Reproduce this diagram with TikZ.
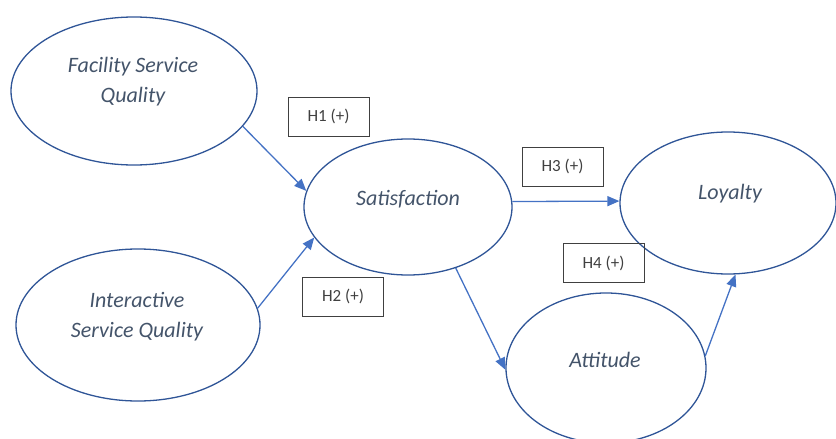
\documentclass[tikz,border=0pt]{standalone}
\usepackage{fontspec}
\setmainfont{Carlito}
\usetikzlibrary{shapes.geometric,arrows.meta}
\definecolor{ellline}{HTML}{2F5597}
\definecolor{arrline}{HTML}{4472C4}
\definecolor{mtext}{HTML}{44546A}
\definecolor{ltext}{HTML}{404040}
\tikzset{
  oval/.style={ellipse, draw=ellline, line width=1.3pt, inner sep=0pt},
  ovaltext/.style={font=\fontsize{22}{30}\selectfont\itshape, text=mtext, align=center, inner sep=0pt},
  hyp/.style={draw=ltext, line width=0.9pt, minimum width=81pt, minimum height=39pt, font=\fontsize{17}{20}\selectfont, text=ltext, inner sep=0pt},
  conn/.style={draw=arrline, line width=1.3pt, -{Triangle[length=12pt,width=10pt]}}
}
\begin{document}
\begin{tikzpicture}[x=1pt,y=-1pt]
\useasboundingbox (0,0) rectangle (836,439);
\node[oval, minimum width=246pt, minimum height=148pt] (fac) at (134,91) {};
\node[ovaltext] (factext) at (133,82) {Facility Service\\Quality};
\node[oval, minimum width=244pt, minimum height=152pt] (int) at (138,325) {};
\node[ovaltext] (inttext) at (137,317) {Interactive\\Service Quality};
\node[oval, minimum width=208pt, minimum height=136pt] (sat) at (408,207) {};
\node[ovaltext] (sattext) at (408,199) {Satisfaction};
\node[oval, minimum width=216pt, minimum height=142pt] (loy) at (728,203) {};
\node[ovaltext] (loytext) at (730,194) {Loyalty};
\node[oval, minimum width=200pt, minimum height=150pt] (att) at (606,368) {};
\node[ovaltext] (atttext) at (605,360) {Attitude};

\node[hyp] (h1) at (328.5,116.5) {H1 (+)};
\node[hyp] (h2) at (343,296.5) {H2 (+)};
\node[hyp] (h3) at (562.5,166.5) {H3 (+)};
\node[hyp] (h4) at (603.5,263) {H4 (+)};

\draw[conn] (fac.-18.3) -- (sat.171.6);
\draw[conn] (int.8.5) -- (sat.198);
\draw[conn] (sat.3.3) -- (loy.179);
\draw[conn] (sat.-52.8) -- (att.181);
\draw[conn] (att.7) -- (loy.-84);
\end{tikzpicture}
\end{document}
